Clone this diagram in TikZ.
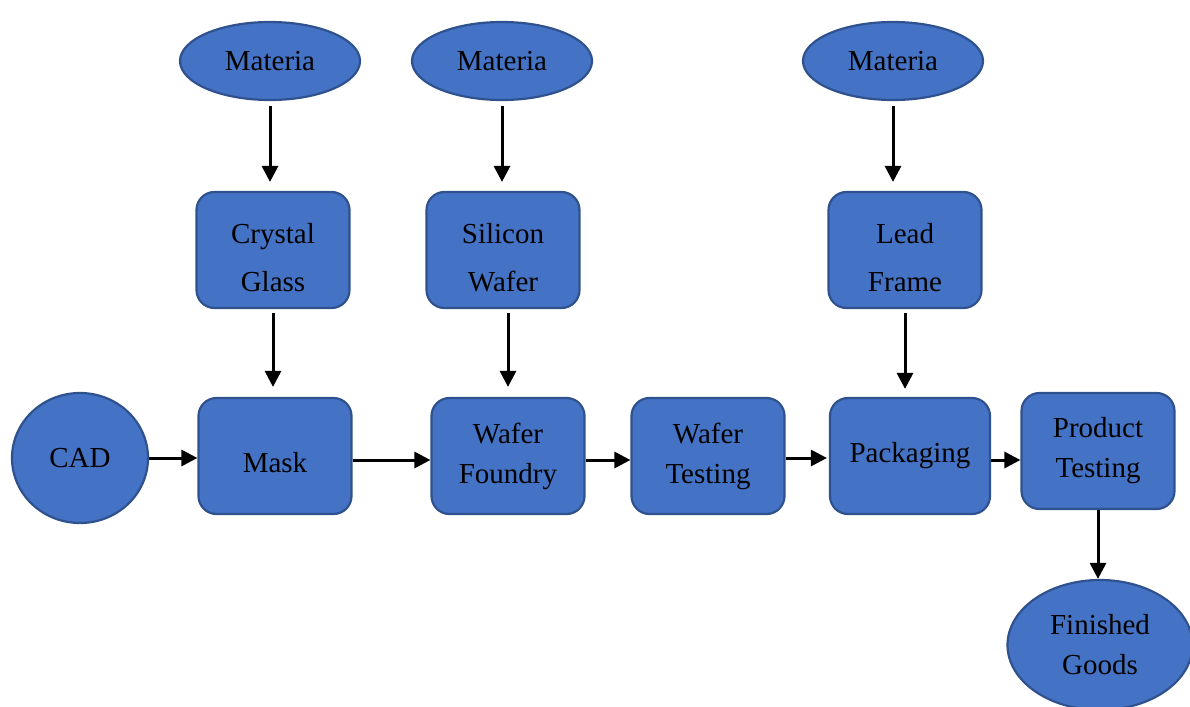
\documentclass[tikz,border=0pt]{standalone}
\usepackage{fontspec}
\setmainfont{Liberation Serif}
\usetikzlibrary{arrows.meta,shapes.geometric}

\definecolor{boxfill}{HTML}{4472C4}
\definecolor{boxline}{HTML}{2F528F}

\tikzset{
  procbox/.style={draw=boxline, line width=2.2pt, fill=boxfill, rounded corners=18pt,
    minimum width=153pt, minimum height=116pt, align=center, inner sep=0pt,
    font=\fontsize{29}{48}\selectfont},
  oval/.style={ellipse, draw=boxline, line width=2.2pt, fill=boxfill, inner sep=0pt,
    align=center, font=\fontsize{29}{40}\selectfont},
  flow/.style={-{Triangle[length=16pt,width=16pt]}, line width=3pt}
}

\begin{document}
\begin{tikzpicture}[x=1pt, y=-1pt]

    \useasboundingbox (0,0) rectangle (1190,706);

    % Materias
    \node[oval, minimum width=180pt, minimum height=78pt] (mat1) at (270,61) {Materia};
    \node[oval, minimum width=180pt, minimum height=78pt] (mat2) at (502,61) {Materia};
    \node[oval, minimum width=180pt, minimum height=78pt] (mat3) at (893,61) {Materia};

    % Materiais intermediarios
    \node[procbox] (glass) at (273,250) {\rule{0pt}{36pt}Crystal\\Glass};
    \node[procbox] (wafer) at (503,250) {\rule{0pt}{36pt}Silicon\\Wafer};
    \node[procbox] (frame) at (905,250) {\rule{0pt}{36pt}Lead\\Frame};

    % Linha principal
    \node[oval, minimum width=136pt, minimum height=130pt] (cad) at (80,458) {CAD};
    \node[procbox] (mask) at (275,456) {\rule{0pt}{34pt}Mask};
    \node[procbox, font=\fontsize{29}{40}\selectfont] (foundry) at (508,456) {Wafer\\Foundry};
    \node[procbox, font=\fontsize{29}{40}\selectfont] (wtest) at (708,456) {Wafer\\Testing};
    \node[procbox, minimum width=160pt] (pack) at (910,456) {Packaging};
    \node[procbox, font=\fontsize{29}{40}\selectfont] (ptest) at (1098,451) {Product\\Testing};
    \node[oval, minimum width=185pt, minimum height=130pt] (goods) at (1100,645) {Finished\\Goods};

    % Setas verticais
    \draw[flow, shorten >=9pt, shorten <=5pt] (mat1.south) -- (mat1.south |- glass.north);
    \draw[flow, shorten >=9pt, shorten <=5pt] (mat2.south) -- (mat2.south |- wafer.north);
    \draw[flow, shorten >=9pt, shorten <=5pt] (mat3.south) -- (mat3.south |- frame.north);
    \draw[flow, shorten >=10pt, shorten <=4pt] (glass.south) -- (glass.south |- mask.north);
    \draw[flow, shorten >=10pt, shorten <=4pt] (wafer.south -| foundry.north) -- (foundry.north);
    \draw[flow, shorten >=8pt, shorten <=4pt] (frame.south) -- (frame.south |- pack.north);
    \draw[flow] (ptest.south) -- (ptest.south |- goods.north);

    % Setas horizontais
    \draw[flow] (cad.east) -- (cad.east -| mask.west);
    \draw[flow] ([yshift=-4pt]mask.east) -- ([yshift=-4pt]mask.east -| foundry.west);
    \draw[flow] ([yshift=-4pt]foundry.east) -- ([yshift=-4pt]foundry.east -| wtest.west);
    \draw[flow, shorten >=2pt] ([yshift=-2pt]wtest.east) -- ([yshift=-2pt]wtest.east -| pack.west);
    \draw[flow] ([yshift=-4pt]pack.east) -- ([yshift=-4pt]pack.east -| ptest.west);

\end{tikzpicture}
\end{document}
